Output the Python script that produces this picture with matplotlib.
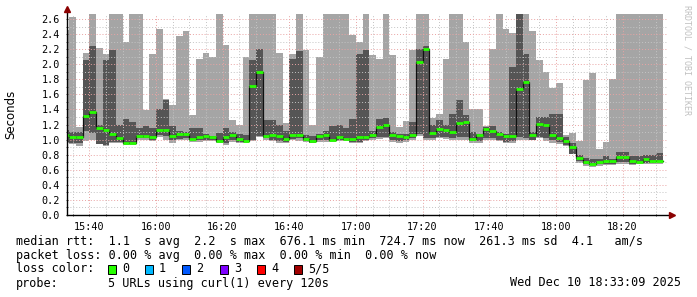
import numpy as np
import matplotlib
matplotlib.use("Agg")
import matplotlib.pyplot as plt
from matplotlib.patches import Rectangle

# smokeping style: 2 minute steps, start 15:32, minutes counted from 15:00
step_start = 32
step_len = 2

# max / upper smoke / median / lower smoke / min  (seconds)
hi = [2.46, 2.63, 1.17, 2.15, 2.80, 2.21, 2.14, 2.80, 2.80, 2.30,
      2.80, 2.80, 1.39, 2.14, 2.47, 1.54, 1.46, 2.37, 2.44, 1.32,
      2.07, 2.15, 2.09, 2.80, 2.25, 1.26, 1.19, 2.09, 2.80, 2.80,
      2.80, 2.80, 2.15, 1.22, 2.14, 2.80, 2.19, 1.19, 2.10, 2.80,
      2.80, 2.80, 2.80, 2.39, 2.30, 2.80, 2.12, 2.07, 2.80, 2.12,
      1.17, 1.25, 2.19, 2.80, 2.80, 1.28, 1.34, 2.07, 2.80, 2.80,
      2.29, 1.41, 1.41, 1.18, 2.20, 2.80, 2.47, 2.41, 2.80, 2.80,
      2.44, 2.06, 1.90, 1.69, 1.75, 1.06, 1.09, 0.98, 1.79, 1.88,
      0.875, 0.97, 1.80, 2.80, 2.80, 2.80, 2.80, 2.80, 2.80, 2.80]
q3 = [1.13, 1.10, 1.10, 2.06, 2.24, 1.20, 2.05, 2.19, 1.20, 1.27,
      1.23, 1.15, 1.18, 1.15, 1.40, 1.53, 1.18, 1.12, 1.10, 1.15,
      1.15, 1.08, 1.05, 1.09, 1.15, 1.10, 1.07, 1.06, 2.06, 2.20,
      1.26, 1.26, 1.20, 1.12, 2.07, 2.17, 1.06, 1.05, 1.08, 1.12,
      1.18, 1.20, 1.16, 1.27, 2.13, 2.19, 1.12, 1.27, 1.29, 1.10,
      1.08, 1.08, 1.24, 2.20, 2.24, 1.20, 1.26, 1.19, 1.34, 1.52,
      1.33, 1.10, 1.08, 1.17, 1.18, 1.10, 1.08, 1.96, 2.80, 2.14,
      1.10, 1.30, 1.30, 1.335, 1.335, 1.04, 0.96, 0.79, 0.75, 0.74,
      0.74, 0.78, 0.74, 0.84, 0.84, 0.78, 0.78, 0.79, 0.80, 0.82]
med = [1.06, 1.04, 1.04, 1.31, 1.37, 1.15, 1.13, 1.08, 1.02, 0.96,
       0.96, 1.05, 1.05, 1.04, 1.13, 1.13, 1.05, 1.08, 1.08, 1.01,
       1.04, 1.05, 1.04, 0.98, 1.03, 1.065, 1.01, 0.98, 1.71, 1.90,
       1.05, 1.065, 1.05, 1.01, 1.065, 1.065, 1.01, 0.98, 1.05, 1.065,
       0.995, 1.03, 1.01, 1.01, 1.03, 1.03, 1.06, 1.17, 1.20, 1.065,
       1.05, 1.04, 1.065, 2.03, 2.20, 1.09, 1.145, 1.13, 1.10, 1.22,
       1.23, 1.01, 1.065, 1.14, 1.12, 1.075, 1.05, 1.05, 1.67, 1.76,
       1.06, 1.21, 1.20, 1.065, 1.02, 0.985, 0.906, 0.76, 0.707, 0.68,
       0.70, 0.72, 0.72, 0.77, 0.77, 0.72, 0.70, 0.74, 0.71, 0.72]
q1 = [0.97, 0.96, 0.96, 1.12, 1.09, 0.94, 0.93, 0.97, 0.97, 0.94,
      0.94, 1.02, 1.02, 1.00, 1.06, 1.05, 0.99, 1.01, 1.02, 0.99,
      0.99, 1.00, 1.00, 0.97, 0.96, 0.99, 0.97, 0.97, 1.00, 1.05,
      1.02, 1.00, 0.98, 0.97, 1.01, 1.02, 0.98, 0.96, 0.99, 0.99,
      0.98, 0.99, 0.99, 0.97, 0.97, 1.00, 1.02, 1.03, 1.04, 0.99,
      0.98, 0.99, 1.02, 1.07, 1.02, 1.02, 1.04, 1.03, 1.02, 1.04,
      1.03, 0.98, 0.98, 1.02, 1.02, 1.00, 0.97, 0.98, 1.03, 1.02,
      1.00, 1.04, 1.02, 1.00, 0.97, 0.93, 0.81, 0.72, 0.67, 0.66,
      0.67, 0.67, 0.68, 0.70, 0.70, 0.68, 0.69, 0.69, 0.69, 0.70]
lo = [0.95, 0.94, 0.91, 0.98, 1.00, 0.94, 0.92, 0.95, 0.95, 0.93,
      0.93, 1.00, 1.00, 0.98, 1.03, 1.00, 0.96, 0.99, 1.00, 0.97,
      0.97, 0.98, 0.98, 0.96, 0.93, 0.97, 0.95, 0.96, 0.98, 1.03,
      1.00, 0.98, 0.96, 0.95, 0.99, 0.98, 0.97, 0.95, 0.97, 0.97,
      0.97, 0.98, 0.98, 0.95, 0.95, 0.98, 1.00, 1.01, 1.02, 0.97,
      0.96, 0.97, 1.00, 1.05, 1.00, 1.00, 1.02, 1.01, 1.00, 1.00,
      1.00, 0.96, 0.95, 1.00, 0.99, 0.98, 0.95, 0.95, 1.00, 1.00,
      0.99, 1.02, 0.98, 0.96, 0.94, 0.91, 0.81, 0.69, 0.65, 0.64,
      0.65, 0.66, 0.66, 0.67, 0.67, 0.66, 0.67, 0.67, 0.67, 0.68]

x_ticks = [40, 60, 80, 100, 120, 140, 160, 180, 200]
x_labels = ["15:40", "16:00", "16:20", "16:40", "17:00", "17:20", "17:40", "18:00", "18:20"]
x_range = (33.33, 213.33)
y_top = 2.666

loss_labels = ["0", "1", "2", "3", "4", "5/5"]
loss_colors = ["#26ff00", "#00b8ff", "#0059ff", "#7e00ff", "#ff0000", "#a00000"]

line_rtt = "median rtt:  1.1  s avg  2.2  s max  676.1 ms min  724.7 ms now  261.3 ms sd  4.1   am/s"
line_loss = "packet loss: 0.00 % avg  0.00 % max  0.00 % min  0.00 % now"
probe_txt = "5 URLs using curl(1) every 120s"
stamp_txt = "Wed Dec 10 18:33:09 2025"

MONO = "DejaVu Sans Mono"


def steps(v):
    return np.append(v, v[-1])


def main():
    n = len(med)
    edges = step_start + step_len * np.arange(n + 1)

    fig = plt.figure(figsize=(6.97, 2.97), dpi=100)
    ax = fig.add_axes([67 / 697, 82 / 297, 600 / 697, 201 / 297])

    # smoke
    ax.fill_between(edges, steps(lo), steps(hi), step="post", color="#a5a5a5", lw=0, zorder=1)
    ax.fill_between(edges, steps(q1), steps(q3), step="post", color="#555555", lw=0, zorder=1.2)
    # median, black risers + green levels
    ax.step(edges, steps(med), where="post", color="#101010", lw=0.9, zorder=3)
    ax.hlines(med, edges[:-1], edges[1:], color=loss_colors[0], lw=2.0, zorder=4)

    ax.set_xlim(*x_range)
    ax.set_ylim(0, y_top)

    ax.set_yticks(np.arange(0, 2.61, 0.2))
    ax.set_yticks(np.arange(0.1, 2.61, 0.2), minor=True)
    ax.set_yticklabels(["%.1f" % v for v in np.arange(0, 2.61, 0.2)])
    ax.set_xticks(x_ticks)
    ax.set_xticks(np.arange(35, 213, 5), minor=True)
    ax.set_xticklabels(x_labels)
    for lab in ax.get_xticklabels() + ax.get_yticklabels():
        lab.set_fontfamily(MONO)
        lab.set_fontsize(7.3)
    ax.tick_params(which="both", length=2, width=0.6, direction="inout", color="#333333", pad=4)

    ax.set_axisbelow(False)
    ax.grid(which="major", color="#e9a3a3", linestyle=(0, (1, 2)), lw=0.7)
    ax.grid(which="minor", color="#c4c4c4", linestyle=(0, (1, 2)), lw=0.7)

    for s in ax.spines.values():
        s.set_visible(False)
    # axis lines with little red arrows
    ax.plot([0, 0], [0, 1.025], transform=ax.transAxes, color="black", lw=1.0, clip_on=False, zorder=5)
    ax.plot([0, 1.008], [0, 0], transform=ax.transAxes, color="black", lw=1.0, clip_on=False, zorder=5)
    ax.plot([0], [1.025], marker="^", ms=4, color="#8b0000", transform=ax.transAxes, clip_on=False, zorder=6)
    ax.plot([1.008], [0], marker=">", ms=4, color="#8b0000", transform=ax.transAxes, clip_on=False, zorder=6)

    fig.text(11 / 697, 1 - 114 / 297, "Seconds", rotation=90, ha="center", va="center",
             fontsize=8.5, family="DejaVu Sans")
    fig.text(686.5 / 697, 1 - 5 / 297, "RRDTOOL / TOBI OETIKER", rotation=270, ha="center", va="top",
             fontsize=6.0, family=MONO, color="#c0c0c0")

    # legend lines, monospace columns
    fs = 8.5

    def put(x, y, s, ha="left"):
        fig.text(x / 697, 1 - y / 297, s, ha=ha, va="center", fontsize=fs, family=MONO)

    y1, y2, y3, y4 = 241, 255, 269, 283
    put(16, y1, line_rtt)
    put(16, y2, line_loss)

    put(16, y3, "loss color:")
    box_x = [108, 145, 182, 220, 257, 294]
    for bx, col, lab in zip(box_x, loss_colors, loss_labels):
        fig.patches.append(Rectangle((bx / 697, 1 - (y3 + 4.5) / 297), 8 / 697, 9 / 297,
                                     transform=fig.transFigure, facecolor=col,
                                     edgecolor="black", lw=0.7))
        put(bx + 14, y3, lab)

    put(16, y4, "probe:")
    put(107.5, y4, probe_txt)
    put(681, y4, stamp_txt, ha="right")

    fig.savefig("out.png", dpi=100)


if __name__ == "__main__":
    main()
